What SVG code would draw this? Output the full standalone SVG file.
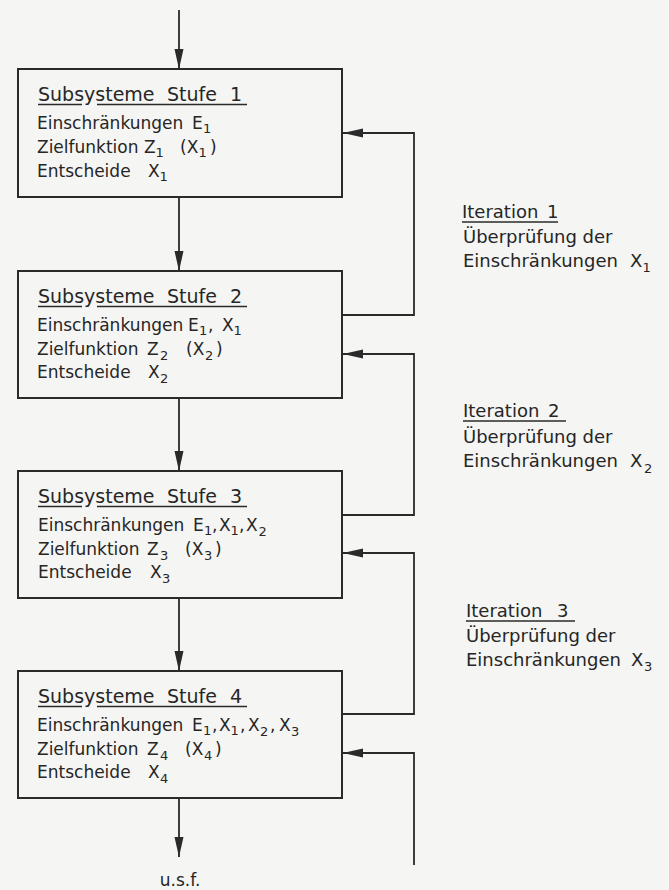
<svg xmlns="http://www.w3.org/2000/svg" width="669" height="890" viewBox="0 0 669 890">
<style>
  text { font-family: "DejaVu Sans", "Liberation Sans", sans-serif; fill: #262626; }
  .hd { font-size: 19px; }
  .t { font-size: 17px; }
  .rt { font-size: 18px; }
  .sub { font-size: 13px; }
  .box { fill: none; stroke: #2a2a2a; stroke-width: 2; }
  .ul { stroke: #2a2a2a; stroke-width: 1.4; }
  .c { fill: none; stroke: #2a2a2a; stroke-width: 1.8; }
</style>
<defs>
  <marker id="ah" markerUnits="userSpaceOnUse" markerWidth="20" markerHeight="10" refX="20" refY="5" orient="auto">
    <path d="M0,0.5 L20,5 L0,9.5 z" fill="#2a2a2a"/>
  </marker>
</defs>
<rect x="0" y="0" width="669" height="890" fill="#f5f5f3"/>

<g id="connectors">
  <path class="c" d="M179,10 V69" marker-end="url(#ah)"/>
  <path class="c" d="M179,197 V271" marker-end="url(#ah)"/>
  <path class="c" d="M179,398 V471" marker-end="url(#ah)"/>
  <path class="c" d="M179,599 V671" marker-end="url(#ah)"/>
  <path class="c" d="M179,799 V857" marker-end="url(#ah)"/>
  <path class="c" d="M342,315 H414 V133 H343" marker-end="url(#ah)"/>
  <path class="c" d="M342,515 H414 V354 H343" marker-end="url(#ah)"/>
  <path class="c" d="M342,714 H414 V553 H343" marker-end="url(#ah)"/>
  <path class="c" d="M414,865 V753 H343" marker-end="url(#ah)"/>
</g>

<g id="stufe1">
  <rect class="box" x="18" y="69" width="324" height="128"/>
  <text class="hd" y="101"><tspan x="38">Subsysteme</tspan><tspan x="167">Stufe</tspan><tspan x="230">1</tspan></text>
  <line class="ul" x1="38" y1="104.5" x2="82" y2="104.5"/><line class="ul" x1="97" y1="104.5" x2="247" y2="104.5"/>
  <text class="t" y="129"><tspan x="37">Einschränkungen</tspan><tspan x="192">E</tspan><tspan class="sub" x="203" y="133">1</tspan></text>
  <text class="t" y="153"><tspan x="37">Zielfunktion</tspan><tspan x="144">Z</tspan><tspan class="sub" x="155.5" y="157">1</tspan><tspan x="180" y="153">(X</tspan><tspan class="sub" x="198.5" y="157">1</tspan><tspan x="210" y="153">)</tspan></text>
  <text class="t" y="177"><tspan x="37">Entscheide</tspan><tspan x="148">X</tspan><tspan class="sub" x="159.5" y="181">1</tspan></text>
</g>

<g id="stufe2">
  <rect class="box" x="18" y="271" width="324" height="127"/>
  <text class="hd" y="303"><tspan x="38">Subsysteme</tspan><tspan x="167">Stufe</tspan><tspan x="230">2</tspan></text>
  <line class="ul" x1="38" y1="306.5" x2="82" y2="306.5"/><line class="ul" x1="97" y1="306.5" x2="247" y2="306.5"/>
  <text class="t" y="331"><tspan x="37">Einschränkungen</tspan><tspan x="188">E</tspan><tspan class="sub" x="199" y="335">1</tspan><tspan x="208" y="331">,</tspan><tspan x="222">X</tspan><tspan class="sub" x="233.5" y="335">1</tspan></text>
  <text class="t" y="355"><tspan x="37">Zielfunktion</tspan><tspan x="147">Z</tspan><tspan class="sub" x="160" y="360">2</tspan><tspan x="186" y="355">(X</tspan><tspan class="sub" x="205" y="360">2</tspan><tspan x="216" y="355">)</tspan></text>
  <text class="t" y="378"><tspan x="37">Entscheide</tspan><tspan x="148">X</tspan><tspan class="sub" x="160" y="383">2</tspan></text>
</g>

<g id="stufe3">
  <rect class="box" x="18" y="471" width="324" height="127"/>
  <text class="hd" y="503"><tspan x="38">Subsysteme</tspan><tspan x="167">Stufe</tspan><tspan x="230">3</tspan></text>
  <line class="ul" x1="38" y1="506.5" x2="82" y2="506.5"/><line class="ul" x1="97" y1="506.5" x2="247" y2="506.5"/>
  <text class="t" y="531"><tspan x="38">Einschränkungen</tspan><tspan x="193">E</tspan><tspan class="sub" x="204" y="535">1</tspan><tspan x="212" y="531">,</tspan><tspan x="219">X</tspan><tspan class="sub" x="230.5" y="535">1</tspan><tspan x="239" y="531">,</tspan><tspan x="246">X</tspan><tspan class="sub" x="258.5" y="536">2</tspan></text>
  <text class="t" y="555"><tspan x="38">Zielfunktion</tspan><tspan x="147">Z</tspan><tspan class="sub" x="160" y="560">3</tspan><tspan x="185" y="555">(X</tspan><tspan class="sub" x="204" y="560">3</tspan><tspan x="215" y="555">)</tspan></text>
  <text class="t" y="578"><tspan x="38">Entscheide</tspan><tspan x="150">X</tspan><tspan class="sub" x="162" y="583">3</tspan></text>
</g>

<g id="stufe4">
  <rect class="box" x="18" y="671" width="324" height="127"/>
  <text class="hd" y="703"><tspan x="38">Subsysteme</tspan><tspan x="167">Stufe</tspan><tspan x="230">4</tspan></text>
  <line class="ul" x1="38" y1="706.5" x2="82" y2="706.5"/><line class="ul" x1="97" y1="706.5" x2="247" y2="706.5"/>
  <text class="t" y="731"><tspan x="37">Einschränkungen</tspan><tspan x="192">E</tspan><tspan class="sub" x="203" y="735">1</tspan><tspan x="212" y="731">,</tspan><tspan x="219">X</tspan><tspan class="sub" x="230.5" y="735">1</tspan><tspan x="240" y="731">,</tspan><tspan x="248">X</tspan><tspan class="sub" x="260" y="736">2</tspan><tspan x="270" y="731">,</tspan><tspan x="279">X</tspan><tspan class="sub" x="291" y="736">3</tspan></text>
  <text class="t" y="755"><tspan x="37">Zielfunktion</tspan><tspan x="147">Z</tspan><tspan class="sub" x="160" y="760">4</tspan><tspan x="185" y="755">(X</tspan><tspan class="sub" x="204" y="760">4</tspan><tspan x="215" y="755">)</tspan></text>
  <text class="t" y="778"><tspan x="37">Entscheide</tspan><tspan x="148">X</tspan><tspan class="sub" x="160" y="783">4</tspan></text>
</g>

<g id="usf">
  <text class="t" x="180" y="886" text-anchor="middle">u.s.f.</text>
</g>

<g id="iteration1">
  <text class="rt" y="218"><tspan x="462">Iteration</tspan><tspan x="547">1</tspan></text>
  <line class="ul" x1="462" y1="222" x2="558" y2="222"/>
  <text class="rt" x="463" y="243">Überprüfung der</text>
  <text class="rt" y="267"><tspan x="463">Einschränkungen</tspan><tspan x="630">X</tspan><tspan class="sub" x="642.5" y="272">1</tspan></text>
</g>

<g id="iteration2">
  <text class="rt" y="417"><tspan x="463">Iteration</tspan><tspan x="548">2</tspan></text>
  <line class="ul" x1="463" y1="421" x2="566" y2="421"/>
  <text class="rt" x="463" y="443">Überprüfung der</text>
  <text class="rt" y="467"><tspan x="463">Einschränkungen</tspan><tspan x="630">X</tspan><tspan class="sub" x="644" y="473">2</tspan></text>
</g>

<g id="iteration3">
  <text class="rt" y="617"><tspan x="466">Iteration</tspan><tspan x="557">3</tspan></text>
  <line class="ul" x1="466" y1="621" x2="575" y2="621"/>
  <text class="rt" x="466" y="642">Überprüfung der</text>
  <text class="rt" y="666"><tspan x="466">Einschränkungen</tspan><tspan x="631">X</tspan><tspan class="sub" x="644" y="671">3</tspan></text>
</g>
</svg>
